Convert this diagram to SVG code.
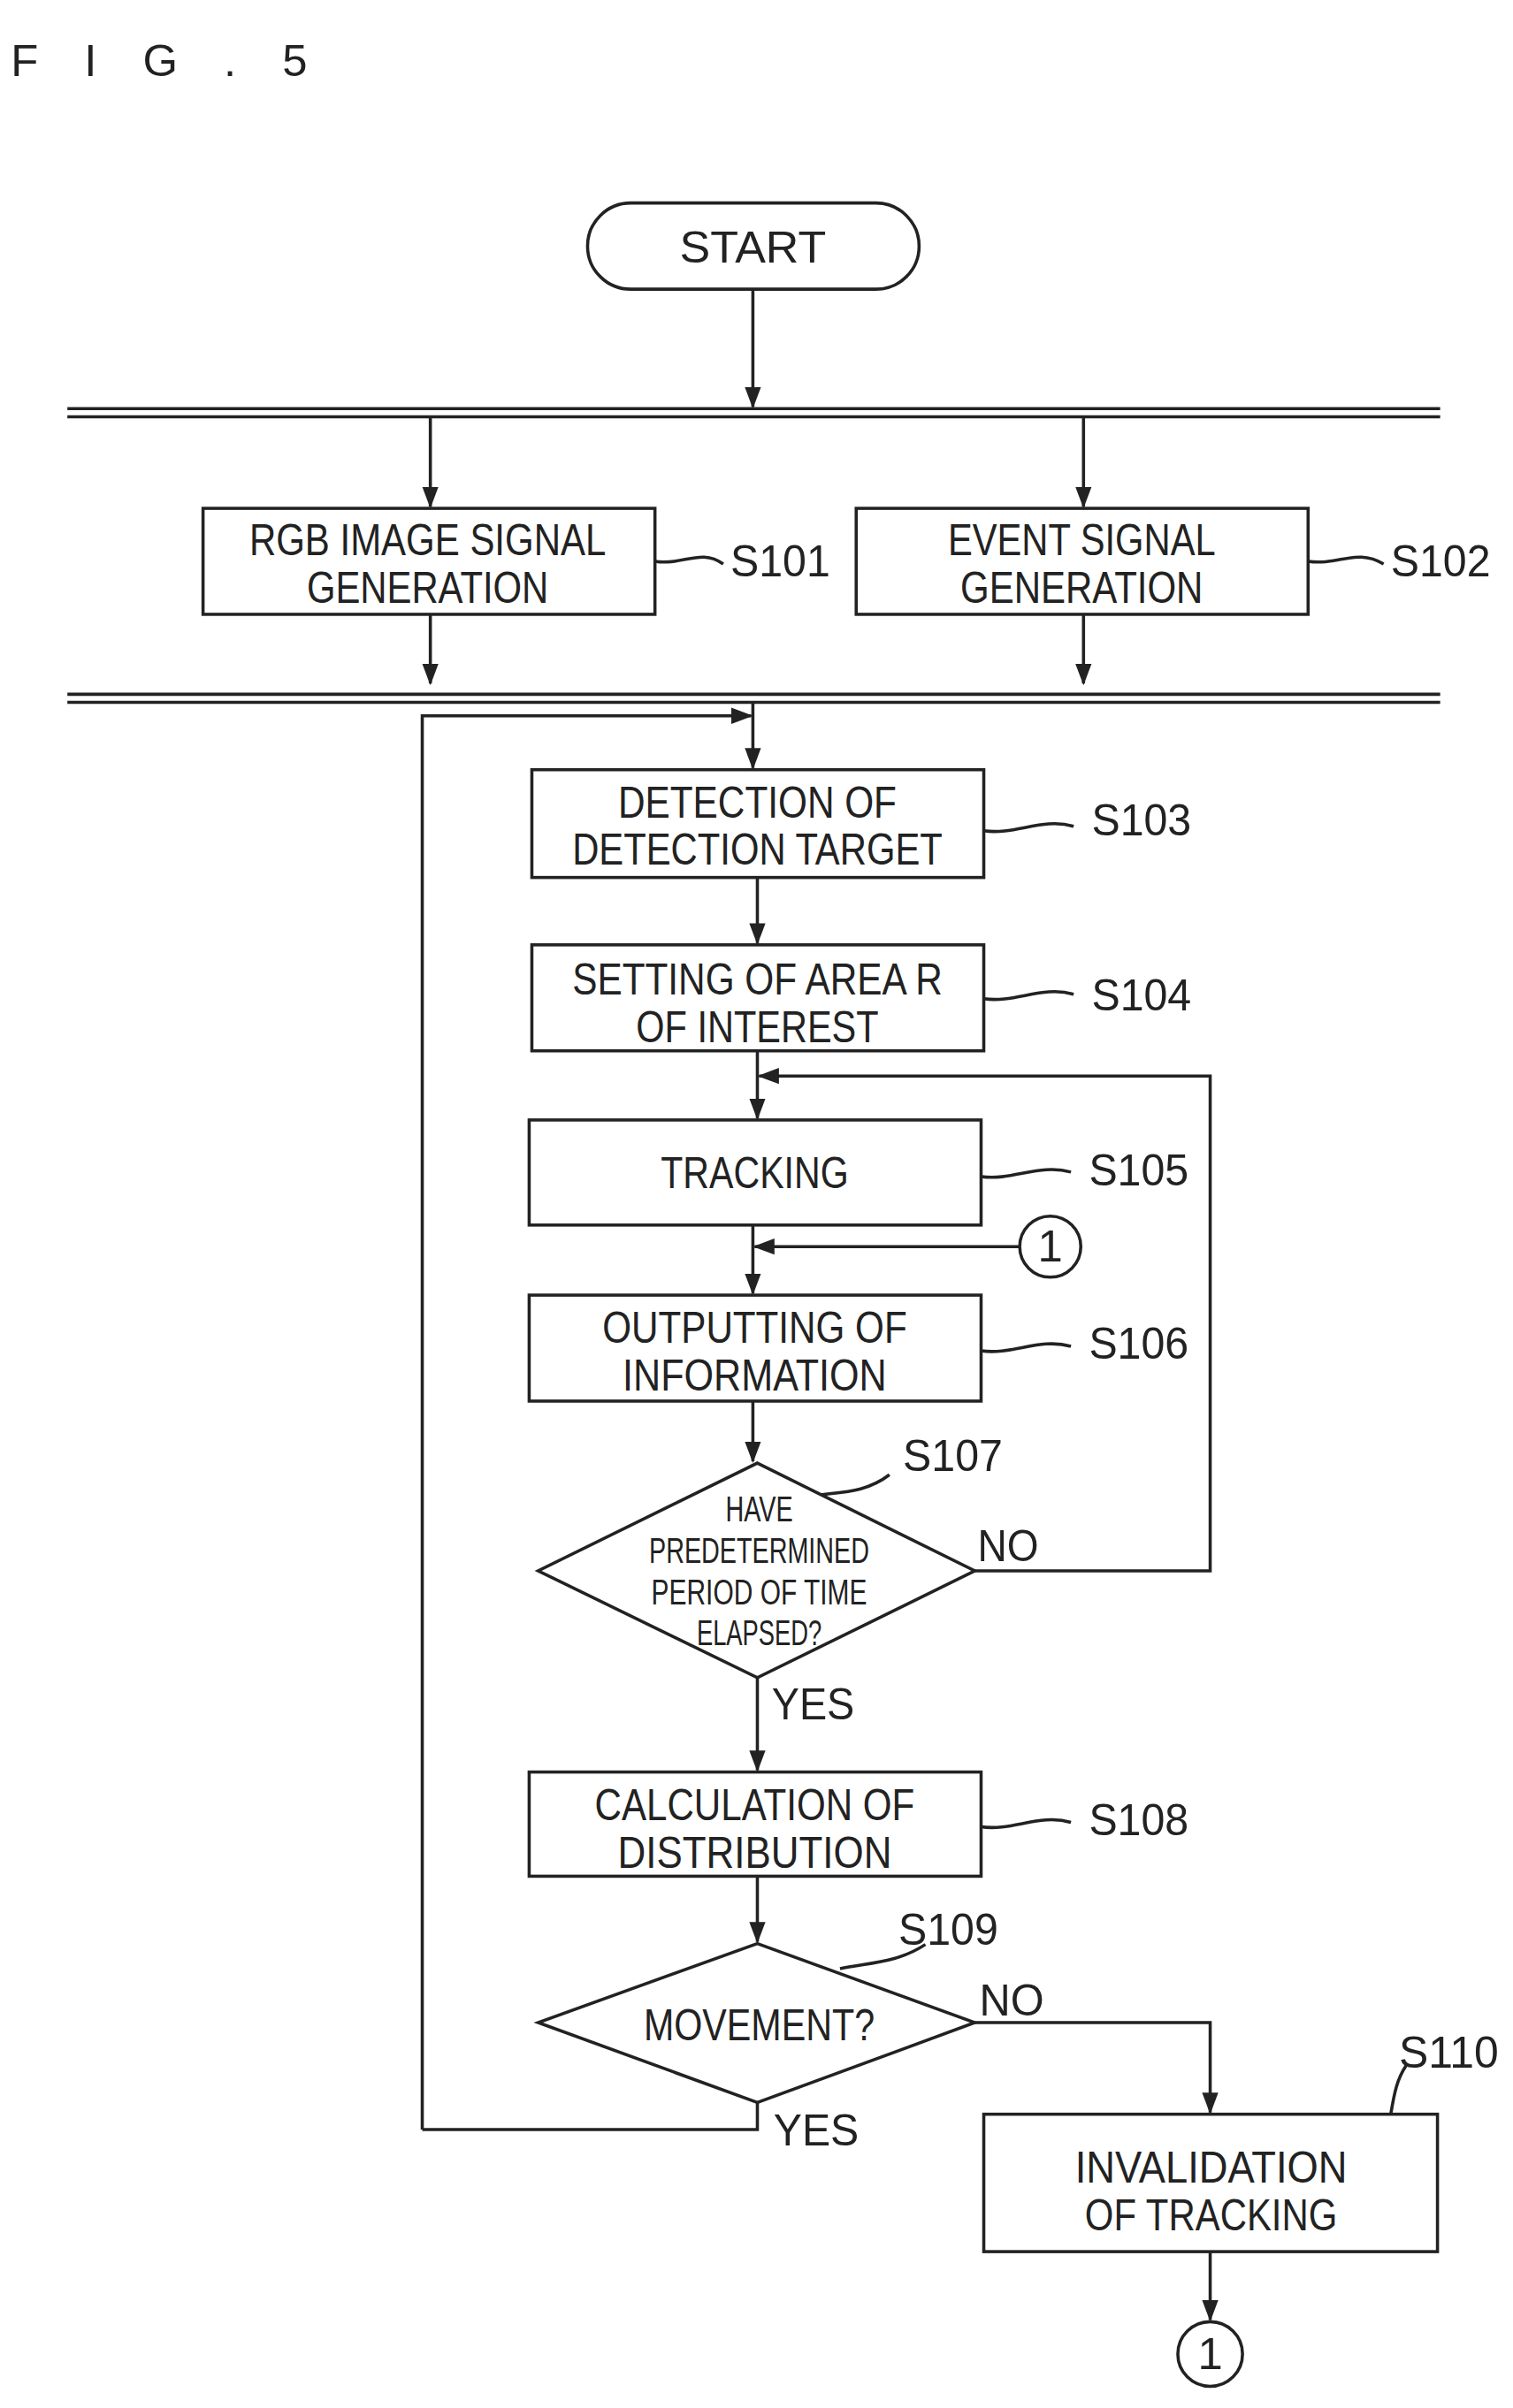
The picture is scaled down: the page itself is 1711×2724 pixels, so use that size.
<svg xmlns="http://www.w3.org/2000/svg" width="1711" height="2724" viewBox="0 0 1711 2724">
<style>
.b{fill:#fff;stroke:#222;stroke-width:3.5}
.l{fill:none;stroke:#222;stroke-width:3.5}
.t{font-family:"Liberation Sans",Arial,sans-serif;font-size:50px;fill:#222;text-anchor:middle}
.s{font-family:"Liberation Sans",Arial,sans-serif;font-size:40px;fill:#222;text-anchor:middle}
.lb{font-family:"Liberation Sans",Arial,sans-serif;font-size:50px;fill:#222}
</style>
<defs>
<marker id="ah" markerWidth="24" markerHeight="24" refX="22" refY="12" orient="auto" markerUnits="userSpaceOnUse" viewBox="0 0 24 24"><path d="M0,3L24,12L0,21z" fill="#222"/></marker></defs>
<rect width="1711" height="2724" fill="#fff"/>
<g transform="scale(1.016)">
<text x="12" y="85" class="lb" font-size="80" textLength="330" lengthAdjust="spacing">FIG.5</text>
<g id="connectors" class="l">
<path d="M838 322V453" marker-end="url(#ah)"/>
<path d="M75 455H1603M75 464H1603M75 773H1603M75 782H1603"/>
<path d="M479 464V564" marker-end="url(#ah)"/>
<path d="M1206 464V564" marker-end="url(#ah)"/>
<path d="M479 684V761" marker-end="url(#ah)"/>
<path d="M1206 684V761" marker-end="url(#ah)"/>
<path d="M838 782V855" marker-end="url(#ah)"/>
<path d="M470 2371V797H836" marker-end="url(#ah)"/>
<path d="M843 977V1050" marker-end="url(#ah)"/>
<path d="M843 1170V1245" marker-end="url(#ah)"/>
<path d="M1085 1749H1347V1198H845" marker-end="url(#ah)"/>
<path d="M838 1364V1440" marker-end="url(#ah)"/>
<path d="M1135 1388H840" marker-end="url(#ah)"/>
<path d="M838 1560V1627" marker-end="url(#ah)"/>
<path d="M843 1868V1971" marker-end="url(#ah)"/>
<path d="M843 2089V2162" marker-end="url(#ah)"/>
<path d="M1085 2252H1347V2352" marker-end="url(#ah)"/>
<path d="M843 2341V2371H470"/>
<path d="M1347 2507V2583" marker-end="url(#ah)"/>
<path d="M729 625C760 630 780 610 805 628M1456 625C1490 630 1510 610 1540 628M1095 925C1130 930 1160 910 1195 920M1095 1112C1130 1117 1160 1097 1195 1107M1092 1310C1127 1315 1157 1295 1192 1305M1092 1504C1127 1509 1157 1489 1192 1499M1092 2034C1127 2039 1157 2019 1192 2029M890 1668C930 1660 960 1665 990 1642M935 2192C970 2185 1000 2185 1030 2165M1548 2354C1552 2330 1555 2315 1565 2300"/>
</g>
<g id="start"><rect class="b" x="654" y="226" width="369" height="96" rx="48"/><text class="t" x="838" y="292" textLength="163" lengthAdjust="spacingAndGlyphs">START</text></g>
<g id="s101"><rect class="b" x="226" y="566" width="503" height="118"/><text class="t" x="476" y="618" textLength="397" lengthAdjust="spacingAndGlyphs">RGB IMAGE SIGNAL</text><text class="t" x="476" y="671" textLength="269" lengthAdjust="spacingAndGlyphs">GENERATION</text><text class="lb" x="813" y="642" textLength="111" lengthAdjust="spacingAndGlyphs">S101</text></g>
<g id="s102"><rect class="b" x="953" y="566" width="503" height="118"/><text class="t" x="1204" y="618" textLength="298" lengthAdjust="spacingAndGlyphs">EVENT SIGNAL</text><text class="t" x="1204" y="671" textLength="270" lengthAdjust="spacingAndGlyphs">GENERATION</text><text class="lb" x="1548" y="642" textLength="111" lengthAdjust="spacingAndGlyphs">S102</text></g>
<g id="s103"><rect class="b" x="592" y="857" width="503" height="120"/><text class="t" x="843" y="910" textLength="310" lengthAdjust="spacingAndGlyphs">DETECTION OF</text><text class="t" x="843" y="963" textLength="412" lengthAdjust="spacingAndGlyphs">DETECTION TARGET</text><text class="lb" x="1215" y="930" textLength="111" lengthAdjust="spacingAndGlyphs">S103</text></g>
<g id="s104"><rect class="b" x="592" y="1052" width="503" height="118"/><text class="t" x="843" y="1107" textLength="412" lengthAdjust="spacingAndGlyphs">SETTING OF AREA R</text><text class="t" x="843" y="1160" textLength="270" lengthAdjust="spacingAndGlyphs">OF INTEREST</text><text class="lb" x="1215" y="1125" textLength="111" lengthAdjust="spacingAndGlyphs">S104</text></g>
<g id="s105"><rect class="b" x="589" y="1247" width="503" height="117"/><text class="t" x="840" y="1323" textLength="209" lengthAdjust="spacingAndGlyphs">TRACKING</text><text class="lb" x="1212" y="1320" textLength="111" lengthAdjust="spacingAndGlyphs">S105</text></g>
<g id="c1a"><circle class="b" cx="1169" cy="1388" r="34"/><text class="t" x="1169" y="1405" font-size="46">1</text></g>
<g id="s106"><rect class="b" x="589" y="1442" width="503" height="118"/><text class="t" x="840" y="1495" textLength="339" lengthAdjust="spacingAndGlyphs">OUTPUTTING OF</text><text class="t" x="840" y="1548" textLength="294" lengthAdjust="spacingAndGlyphs">INFORMATION</text><text class="lb" x="1212" y="1513" textLength="111" lengthAdjust="spacingAndGlyphs">S106</text></g>
<g id="s107"><path class="b" d="M843 1629L1085 1749L843 1868L599 1749Z"/><text class="s" x="845" y="1694" textLength="75" lengthAdjust="spacingAndGlyphs">HAVE</text><text class="s" x="845" y="1740" textLength="245" lengthAdjust="spacingAndGlyphs">PREDETERMINED</text><text class="s" x="845" y="1786" textLength="240" lengthAdjust="spacingAndGlyphs">PERIOD OF TIME</text><text class="s" x="845" y="1832" textLength="139" lengthAdjust="spacingAndGlyphs">ELAPSED?</text><text class="lb" x="1005" y="1638" textLength="111" lengthAdjust="spacingAndGlyphs">S107</text><text class="lb" x="1088" y="1738" textLength="68" lengthAdjust="spacingAndGlyphs">NO</text><text class="lb" x="859" y="1914" textLength="92" lengthAdjust="spacingAndGlyphs">YES</text></g>
<g id="s108"><rect class="b" x="589" y="1973" width="503" height="116"/><text class="t" x="840" y="2027" textLength="356" lengthAdjust="spacingAndGlyphs">CALCULATION OF</text><text class="t" x="840" y="2080" textLength="305" lengthAdjust="spacingAndGlyphs">DISTRIBUTION</text><text class="lb" x="1212" y="2043" textLength="111" lengthAdjust="spacingAndGlyphs">S108</text></g>
<g id="s109"><path class="b" d="M843 2164L1085 2252L843 2341L599 2252Z"/><text class="t" x="845" y="2272" textLength="257" lengthAdjust="spacingAndGlyphs">MOVEMENT?</text><text class="lb" x="1000" y="2165" textLength="111" lengthAdjust="spacingAndGlyphs">S109</text><text class="lb" x="1090" y="2244" textLength="72" lengthAdjust="spacingAndGlyphs">NO</text><text class="lb" x="861" y="2389" textLength="95" lengthAdjust="spacingAndGlyphs">YES</text></g>
<g id="s110"><rect class="b" x="1095" y="2354" width="505" height="153"/><text class="t" x="1348" y="2430" textLength="303" lengthAdjust="spacingAndGlyphs">INVALIDATION</text><text class="t" x="1348" y="2483" textLength="281" lengthAdjust="spacingAndGlyphs">OF TRACKING</text><text class="lb" x="1557" y="2302" textLength="111" lengthAdjust="spacingAndGlyphs">S110</text></g>
<g id="c1b"><circle class="b" cx="1347" cy="2621" r="36"/><text class="t" x="1347" y="2638" font-size="46">1</text></g>
</g>
</svg>
